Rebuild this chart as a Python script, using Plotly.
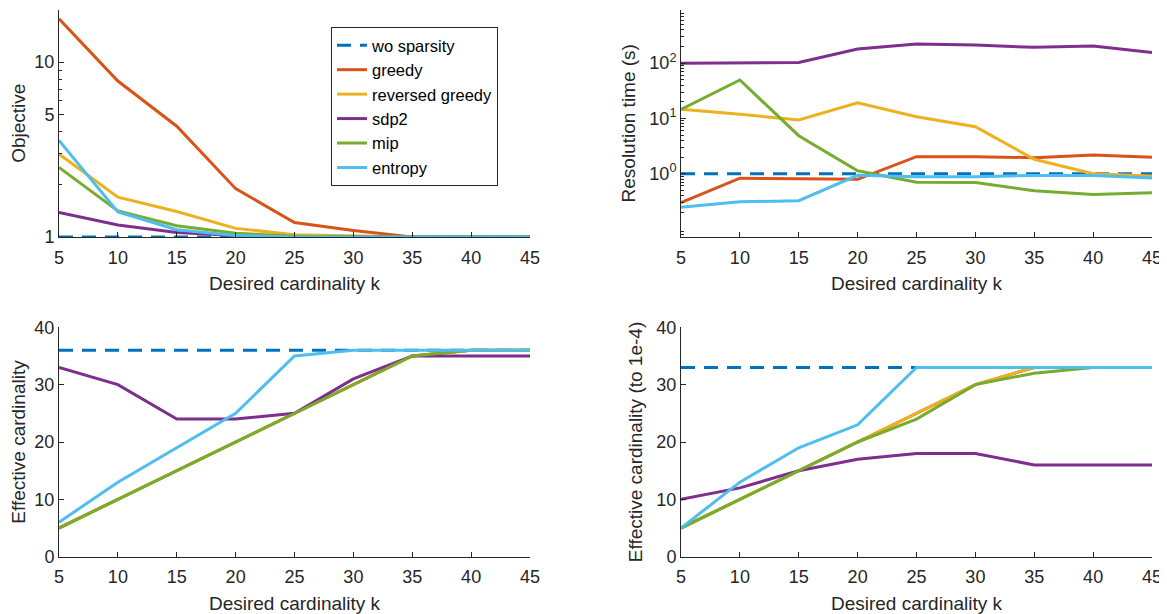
import plotly.graph_objects as go
import numpy as np

k = [5, 10, 15, 20, 25, 30, 35, 40, 45]
names = ["wo sparsity", "greedy", "reversed greedy", "sdp2", "mip", "entropy"]
colors = ["#0072BD", "#D95319", "#EDB120", "#7E2F8E", "#77AC30", "#4DBEEE"]

# Objective
obj_wo = [1, 1, 1, 1, 1, 1, 1, 1, 1]
obj_greedy = [17.7, 7.8, 4.3, 1.89, 1.21, 1.09, 1.0, 1.0, 1.0]
obj_rgreedy = [2.98, 1.69, 1.40, 1.12, 1.03, 1.01, 1.0, 1.0, 1.0]
obj_sdp2 = [1.38, 1.17, 1.06, 1.02, 1.0, 1.0, 1.0, 1.0, 1.0]
obj_mip = [2.50, 1.41, 1.16, 1.05, 1.01, 1.0, 1.0, 1.0, 1.0]
obj_entropy = [3.57, 1.39, 1.10, 1.02, 1.0, 1.0, 1.0, 1.0, 1.0]

# Resolution time (s)
t_wo = [1, 1, 1, 1, 1, 1, 1, 1, 1]
t_greedy = [0.30, 0.83, 0.81, 0.79, 2.03, 2.03, 1.95, 2.18, 1.98]
t_rgreedy = [14.6, 11.9, 9.35, 19.2, 10.7, 7.08, 1.82, 1.0, 0.91]
t_sdp2 = [99, 102, 103, 180, 221, 212, 193, 204, 155]
t_mip = [14.6, 49.5, 4.87, 1.13, 0.70, 0.69, 0.49, 0.42, 0.45]
t_entropy = [0.247, 0.31, 0.325, 0.935, 0.88, 0.88, 0.93, 0.93, 0.84]

# Effective cardinality
ec_wo = [36, 36, 36, 36, 36, 36, 36, 36, 36]
ec_greedy = [5, 10, 15, 20, 25, 30, 35, 36, 36]
ec_rgreedy = [5, 10, 15, 20, 25, 30, 35, 36, 36]
ec_sdp2 = [33, 30, 24, 24, 25, 31, 35, 35, 35]
ec_mip = [5, 10, 15, 20, 25, 30, 35, 36, 36]
ec_entropy = [6, 13, 19, 25, 35, 36, 36, 36, 36]

# Effective cardinality (to 1e-4)
ec4_wo = [33, 33, 33, 33, 33, 33, 33, 33, 33]
ec4_greedy = [5, 10, 15, 20, 25, 30, 33, 33, 33]
ec4_rgreedy = [5, 10, 15, 20, 25, 30, 33, 33, 33]
ec4_sdp2 = [10, 12, 15, 17, 18, 18, 16, 16, 16]
ec4_mip = [5, 10, 15, 20, 24, 30, 32, 33, 33]
ec4_entropy = [5, 13, 19, 23, 33, 33, 33, 33, 33]

panels = [
    [obj_wo, obj_greedy, obj_rgreedy, obj_sdp2, obj_mip, obj_entropy],
    [t_wo, t_greedy, t_rgreedy, t_sdp2, t_mip, t_entropy],
    [ec_wo, ec_greedy, ec_rgreedy, ec_sdp2, ec_mip, ec_entropy],
    [ec4_wo, ec4_greedy, ec4_rgreedy, ec4_sdp2, ec4_mip, ec4_entropy],
]

W, H = 1167, 614
OX, OY = 8, 8  # page body margin offset
AX = "#262626"
FONT = "Liberation Sans, Arial, Helvetica, sans-serif"

fig = go.Figure()
for p, series in enumerate(panels):
    xa = "x" if p == 0 else f"x{p+1}"
    ya = "y" if p == 0 else f"y{p+1}"
    for i, vals in enumerate(series):
        fig.add_trace(go.Scatter(
            x=k, y=vals, mode="lines", name=names[i],
            line=dict(color=colors[i], width=3,
                      dash="14px,9px" if i == 0 else "solid"),
            showlegend=(p == 0), xaxis=xa, yaxis=ya,
            hoverinfo="skip"))

# panel extents in screen pixels
left_x = (59, 530)
right_x = (681, 1152)
top_y = (9.5, 237)
bot_y = (327.3, 556.7)

def xd(px):
    return [(px[0] - OX) / W, (px[1] - OX) / W]

def yd(py):
    return [1 - (py[1] - OY) / H, 1 - (py[0] - OY) / H]

TFS = 19
common_x = dict(
    range=[5, 45], tickvals=k, showline=True, linecolor=AX, linewidth=1,
    ticks="inside", ticklen=5, tickcolor=AX, showgrid=False, zeroline=False,
    automargin=False, ticklabelstandoff=4,
    tickfont=dict(size=18, color=AX, family=FONT),
    title=dict(text="Desired cardinality k", font=dict(size=TFS, color=AX, family=FONT), standoff=10),
)
common_y = dict(
    showline=True, linecolor=AX, linewidth=1, ticks="inside", ticklen=5,
    tickcolor=AX, showgrid=False, zeroline=False, automargin=False,
    tickfont=dict(size=18, color=AX, family=FONT),
)

obj_minor = [2, 3, 4, 6, 7, 8, 9, 20]
t_minor = [m * 10.0 ** e for e in range(-2, 3) for m in range(2, 10)]

fig.update_layout(
    template="none",
    width=W, height=H, paper_bgcolor="white", plot_bgcolor="white",
    margin=dict(l=0, r=0, t=0, b=0),
    font=dict(family=FONT, color=AX),
    xaxis=dict(common_x, domain=xd(left_x), anchor="y"),
    yaxis=dict(common_y, domain=yd(top_y), anchor="x", type="log",
               range=[0, np.log10(20)], tickvals=[1, 5, 10], ticktext=["1", "5", "10"],
               minor=dict(tickvals=obj_minor, ticks="inside", ticklen=3, tickcolor=AX),
               title=dict(text="Objective", font=dict(size=TFS, color=AX, family=FONT), standoff=8)),
    xaxis2=dict(common_x, domain=xd(right_x), anchor="y2"),
    yaxis2=dict(common_y, domain=yd(top_y), anchor="x2", type="log",
                range=[-1.145, 2.97], tickvals=[1, 10, 100],
                ticktext=["10<sup>0</sup>", "10<sup>1</sup>", "10<sup>2</sup>"],
                minor=dict(tickvals=t_minor, ticks="inside", ticklen=3, tickcolor=AX),
                title=dict(text="Resolution time (s)", font=dict(size=TFS, color=AX, family=FONT), standoff=8)),
    xaxis3=dict(common_x, domain=xd(left_x), anchor="y3"),
    yaxis3=dict(common_y, domain=yd(bot_y), anchor="x3", range=[0, 40],
                tickvals=[0, 10, 20, 30, 40],
                title=dict(text="Effective cardinality", font=dict(size=TFS, color=AX, family=FONT), standoff=8)),
    xaxis4=dict(common_x, domain=xd(right_x), anchor="y4"),
    yaxis4=dict(common_y, domain=yd(bot_y), anchor="x4", range=[0, 40],
                tickvals=[0, 10, 20, 30, 40],
                title=dict(text="Effective cardinality (to 1e-4)", font=dict(size=TFS, color=AX, family=FONT), standoff=8)),
    legend=dict(x=(331 - OX) / W, y=1 - (27 - OY) / H, xanchor="left", yanchor="top",
                bgcolor="white", bordercolor=AX, borderwidth=1,
                font=dict(size=16.5, color="black", family=FONT),
                tracegroupgap=0, itemwidth=30),
)

fig.write_html("out.html")
